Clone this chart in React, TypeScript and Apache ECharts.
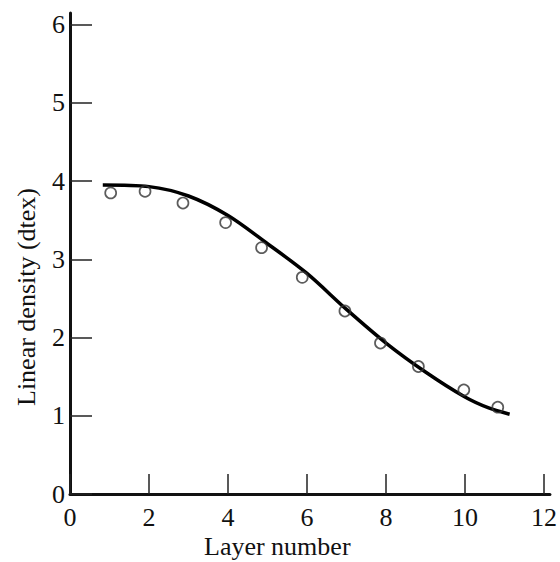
import React, { useEffect, useRef } from "react";
import * as echarts from "echarts";

const xTicks = [0, 2, 4, 6, 8, 10, 12];
const yTicks = [0, 1, 2, 3, 4, 5, 6];
const xAxisMax = 12.15;
const yAxisMax = 6.15;
const pointX = [1.03, 1.9, 2.86, 3.94, 4.85, 5.88, 6.96, 7.86, 8.82, 9.97, 10.83];
const pointY = [3.85, 3.87, 3.72, 3.47, 3.15, 2.77, 2.34, 1.93, 1.63, 1.33, 1.11];
const curveX = [0.83, 2, 3, 4, 5, 6, 7, 8, 9, 10, 10.6, 11.13];
const curveY = [3.95, 3.93, 3.81, 3.56, 3.2, 2.82, 2.36, 1.93, 1.56, 1.24, 1.1, 1.02];
const xName = "Layer number";
const yName = "Linear density (dtex)";

export default function App() {
  const ref = useRef<HTMLDivElement>(null);
  useEffect(() => {
    if (!ref.current) return;
    const chart = echarts.init(ref.current, null, { renderer: "svg" });
    const font = "Liberation Serif";
    chart.setOption({
      animation: false,
      backgroundColor: "#ffffff",
      grid: { left: 70, right: 8, top: 13, bottom: 68 },
      xAxis: {
        type: "value",
        min: xTicks[0],
        max: xAxisMax,
        axisLine: { show: true, onZero: false, lineStyle: { color: "#111", width: 3 } },
        axisTick: {
          show: true,
          inside: true,
          length: 20,
          customValues: xTicks,
          lineStyle: { color: "#222", width: 1.5 },
        },
        axisLabel: { color: "#111", fontFamily: font, fontSize: 26, margin: 10, customValues: xTicks },
        splitLine: { show: false },
      },
      yAxis: {
        type: "value",
        min: yTicks[0],
        max: yAxisMax,
        axisLine: { show: true, onZero: false, lineStyle: { color: "#111", width: 3 } },
        axisTick: {
          show: true,
          inside: true,
          length: 22,
          customValues: yTicks,
          lineStyle: { color: "#222", width: 1.5 },
        },
        axisLabel: { color: "#111", fontFamily: font, fontSize: 26, margin: 5, customValues: yTicks },
        splitLine: { show: false },
      },
      graphic: [
        {
          type: "text",
          left: 204,
          top: 533,
          style: { text: xName, font: `26px '${font}'`, fill: "#111" },
        },
        {
          type: "text",
          x: 13,
          y: 406,
          rotation: Math.PI / 2,
          style: {
            text: yName,
            font: `26px '${font}'`,
            fill: "#111",
            align: "left",
            verticalAlign: "top",
          },
        },
      ],
      series: [
        {
          type: "line",
          data: curveX.map((x, i) => [x, curveY[i]]),
          smooth: 0.3,
          showSymbol: false,
          lineStyle: { color: "#000", width: 3.5 },
          z: 2,
        },
        {
          type: "scatter",
          data: pointX.map((x, i) => [x, pointY[i]]),
          symbol: "circle",
          symbolSize: 11,
          itemStyle: { color: "rgba(255,255,255,0)", borderColor: "#333", borderWidth: 1.7 },
          z: 3,
        },
      ],
    });
    return () => chart.dispose();
  }, []);
  return (
    <div
      ref={ref}
      style={{ position: "fixed", left: 0, top: 0, width: 560, height: 562, background: "#fff" }}
    />
  );
}
